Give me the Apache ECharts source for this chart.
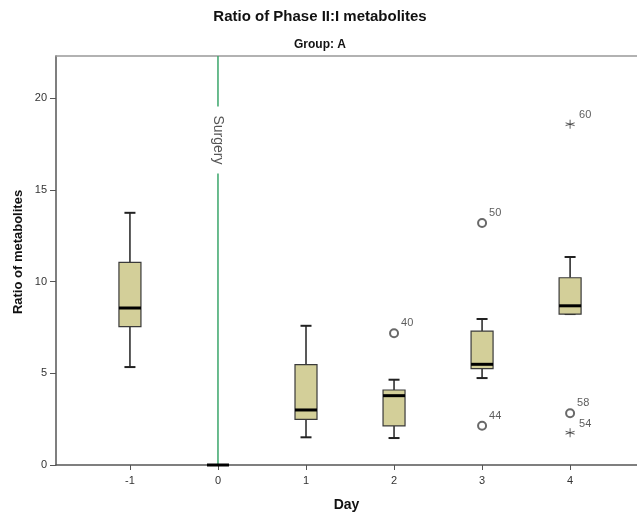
<!DOCTYPE html>
<html><head><meta charset="utf-8">
<script src="https://cdn.jsdelivr.net/npm/echarts@6/dist/echarts.min.js"></script>
<style>html,body{margin:0;padding:0;background:#fff}#c{width:637px;height:514px}</style>
</head><body><div id="c"></div>
<script>
const titleText = 'Ratio of Phase II:I metabolites';
const panelText = 'Group: A';
const xName = 'Day';
const yName = 'Ratio of metabolites';
const days = [-1, 0, 1, 2, 3, 4];
// [min, Q1, median, Q3, max] per day
const boxStats = [
  [5.34, 7.54, 8.56, 11.05, 13.75],
  [0, 0, 0, 0, 0],
  [1.51, 2.49, 3.00, 5.47, 7.59],
  [1.47, 2.13, 3.78, 4.09, 4.65],
  [4.74, 5.25, 5.49, 7.30, 7.96],
  [8.23, 8.23, 8.68, 10.21, 11.34]
];
const outlierDays = [2, 3, 3, 4];
const outlierValues = [7.18, 13.19, 2.14, 2.82];
const outlierIds = ['40', '50', '44', '58'];
const extremeDays = [4, 4];
const extremeValues = [18.58, 1.76];
const extremeIds = ['60', '54'];
const yTicks = [0, 5, 10, 15, 20];
const xTicks = [-1, 0, 1, 2, 3, 4];
const surgeryDay = 0;
const surgeryLabel = 'Surgery';

const FONT = '"Liberation Sans", Arial, sans-serif';
const chart = echarts.init(document.getElementById('c'), null, {renderer: 'canvas'});

function renderBox(params, api) {
  const x = api.value(0);
  const pMin = api.coord([x, api.value(1)]);
  const pQ1 = api.coord([x, api.value(2)]);
  const pMed = api.coord([x, api.value(3)]);
  const pQ3 = api.coord([x, api.value(4)]);
  const pMax = api.coord([x, api.value(5)]);
  const cx = pMin[0];
  const bw = 22, cw = 11;
  const ls = {stroke: '#222', lineWidth: 1.5};
  return {
    type: 'group',
    children: [
      {type: 'line', shape: {x1: cx, y1: pMax[1], x2: cx, y2: pQ3[1]}, style: ls},
      {type: 'line', shape: {x1: cx, y1: pMin[1], x2: cx, y2: pQ1[1]}, style: ls},
      {type: 'line', shape: {x1: cx - cw / 2, y1: pMax[1], x2: cx + cw / 2, y2: pMax[1]}, style: {stroke: '#222', lineWidth: 2}},
      {type: 'line', shape: {x1: cx - cw / 2, y1: pMin[1], x2: cx + cw / 2, y2: pMin[1]}, style: {stroke: '#222', lineWidth: 2}},
      {type: 'rect', shape: {x: cx - bw / 2, y: pQ3[1], width: bw, height: pQ1[1] - pQ3[1]},
        style: {fill: '#d3cf99', stroke: '#3a3a3a', lineWidth: 1.2}},
      {type: 'line', shape: {x1: cx - bw / 2, y1: pMed[1], x2: cx + bw / 2, y2: pMed[1]}, style: {stroke: '#000', lineWidth: 3}}
    ]
  };
}

function renderSurgery(params, api) {
  const cs = params.coordSys;
  const x = api.coord([api.value(0), 0])[0];
  return {
    type: 'group',
    children: [
      {type: 'line', shape: {x1: x, y1: cs.y, x2: x, y2: cs.y + cs.height}, style: {stroke: '#3aa56a', lineWidth: 1.5}},
      {type: 'text', x: x, y: cs.y + 84, rotation: -Math.PI / 2,
        style: {text: surgeryLabel, font: '14px ' + FONT, fill: '#555',
          align: 'center', verticalAlign: 'middle', backgroundColor: '#fff', padding: [0, 9]}}
    ]
  };
}

const asterisk = 'path://M5,0L5,10M0.25,3.45L9.75,6.55M0.25,6.55L9.75,3.45';

const option = {
  animation: false,
  backgroundColor: '#fff',
  textStyle: {fontFamily: FONT},
  grid: {left: 56, right: 0, top: 56, bottom: 49, outerBoundsMode: 'none', containLabel: false},
  graphic: [
    {type: 'text', x: 320, y: 17, style: {text: titleText, font: 'bold 15px ' + FONT, fill: '#111', align: 'center', verticalAlign: 'middle'}},
    {type: 'text', x: 320, y: 45, style: {text: panelText, font: 'bold 12px ' + FONT, fill: '#111', align: 'center', verticalAlign: 'middle'}},
    {type: 'text', x: 18, y: 252, rotation: Math.PI / 2, style: {text: yName, font: 'bold 13px ' + FONT, fill: '#111', align: 'center', verticalAlign: 'middle'}}
  ],
  xAxis: [{
    type: 'value', min: -1.84, max: 4.76,
    name: xName, nameLocation: 'middle', nameGap: 33,
    nameTextStyle: {fontSize: 14, fontWeight: 'bold', color: '#111', fontFamily: FONT},
    axisLine: {show: true, onZero: false, lineStyle: {color: '#555', width: 1.5}},
    axisTick: {show: true, length: 5, lineStyle: {color: '#555'}, customValues: xTicks},
    axisLabel: {fontSize: 11, color: '#333', margin: 10, customValues: xTicks},
    splitLine: {show: false}
  }, {
    type: 'value', position: 'top', min: -1.84, max: 4.76,
    axisLine: {show: true, onZero: false, lineStyle: {color: '#999', width: 1.5}},
    axisTick: {show: false}, axisLabel: {show: false}, splitLine: {show: false}
  }],
  yAxis: {
    type: 'value', min: 0, max: 22.3,
    axisLine: {show: true, onZero: false, lineStyle: {color: '#555', width: 1.5}},
    axisTick: {show: true, length: 6, lineStyle: {color: '#555'}, customValues: yTicks},
    axisLabel: {fontSize: 11, color: '#333', margin: 9, customValues: yTicks},
    splitLine: {show: false}
  },
  series: [
    {
      type: 'custom', renderItem: renderSurgery, xAxisIndex: 0,
      data: [[surgeryDay]], z: 1
    },
    {
      type: 'custom', renderItem: renderBox, xAxisIndex: 0,
      data: days.map((d, i) => [d].concat(boxStats[i])), z: 3
    },
    {
      type: 'scatter', xAxisIndex: 0, symbol: 'emptyCircle', symbolSize: 8,
      itemStyle: {color: '#444', borderWidth: 1},
      label: {show: true, position: 'right', formatter: '{b}', fontSize: 11, color: '#333', offset: [-3, -10]},
      data: outlierDays.map((d, i) => ({name: outlierIds[i], value: [d, outlierValues[i]]})), z: 4
    },
    {
      type: 'scatter', xAxisIndex: 0, symbol: asterisk, symbolSize: 9,
      itemStyle: {color: 'none', borderColor: '#333', borderWidth: 1},
      label: {show: true, position: 'right', formatter: '{b}', fontSize: 11, color: '#333', offset: [-3, -9]},
      data: extremeDays.map((d, i) => ({name: extremeIds[i], value: [d, extremeValues[i]]})), z: 4
    }
  ]
};
chart.setOption(option);
</script>
</body></html>
